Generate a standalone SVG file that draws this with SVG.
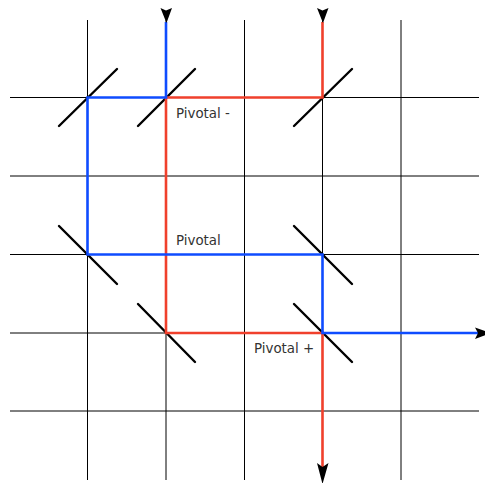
<svg xmlns="http://www.w3.org/2000/svg" width="485" height="483" viewBox="0 0 485 483">
<style>
.g{stroke:#000;stroke-width:1;fill:none}
.m{stroke:#000;stroke-width:2.4;fill:none;stroke-linecap:round}
.r{stroke:#f0402c;stroke-width:2.6;fill:none}
.b{stroke:#0f4cff;stroke-width:2.6;fill:none}
.a{fill:#000;stroke:none}
text{font-family:"DejaVu Sans",sans-serif;font-size:13.4px;fill:#333}
</style>
<rect width="485" height="483" fill="#fff"/>
<g id="grid">
<path class="g" d="M87.5 20V480M166 20V480M244.5 20V480M322.500 20V480M401 20V480"/>
<path class="g" d="M10 97.500H479M10 176H479M10 254.500H479M10 333H479M10 411H479"/>
</g>
<g id="connectors">
<path class="m" d="M59 126L117 69M138 126L195 69M294 126L352 69M59 226L117 284M294 226L352 284M138 304L195 362M294 304L352 362"/>
<path class="r" d="M322.500 22V97.500H166V333H322.500V468"/>
<path class="b" d="M166 22V97.500H87.500V254.500H322.500V333H478"/>
<path class="a" d="M160.500 8L166 10.500L172 8L166.500 23Z"/>
<path class="a" d="M317 8L322.500 10.500L328.500 8L323 23Z"/>
<path class="a" d="M317 463L322.500 467L328.500 463L322.500 484Z"/>
<path class="a" d="M475 327.500L478 333L475 339L491 333Z"/>
</g>
<g id="pivot-minus"><text x="176" y="117.500">Pivotal -</text></g>
<g id="pivot"><text x="176" y="245">Pivotal</text></g>
<g id="pivot-plus"><text x="254" y="352.500">Pivotal +</text></g>
</svg>
